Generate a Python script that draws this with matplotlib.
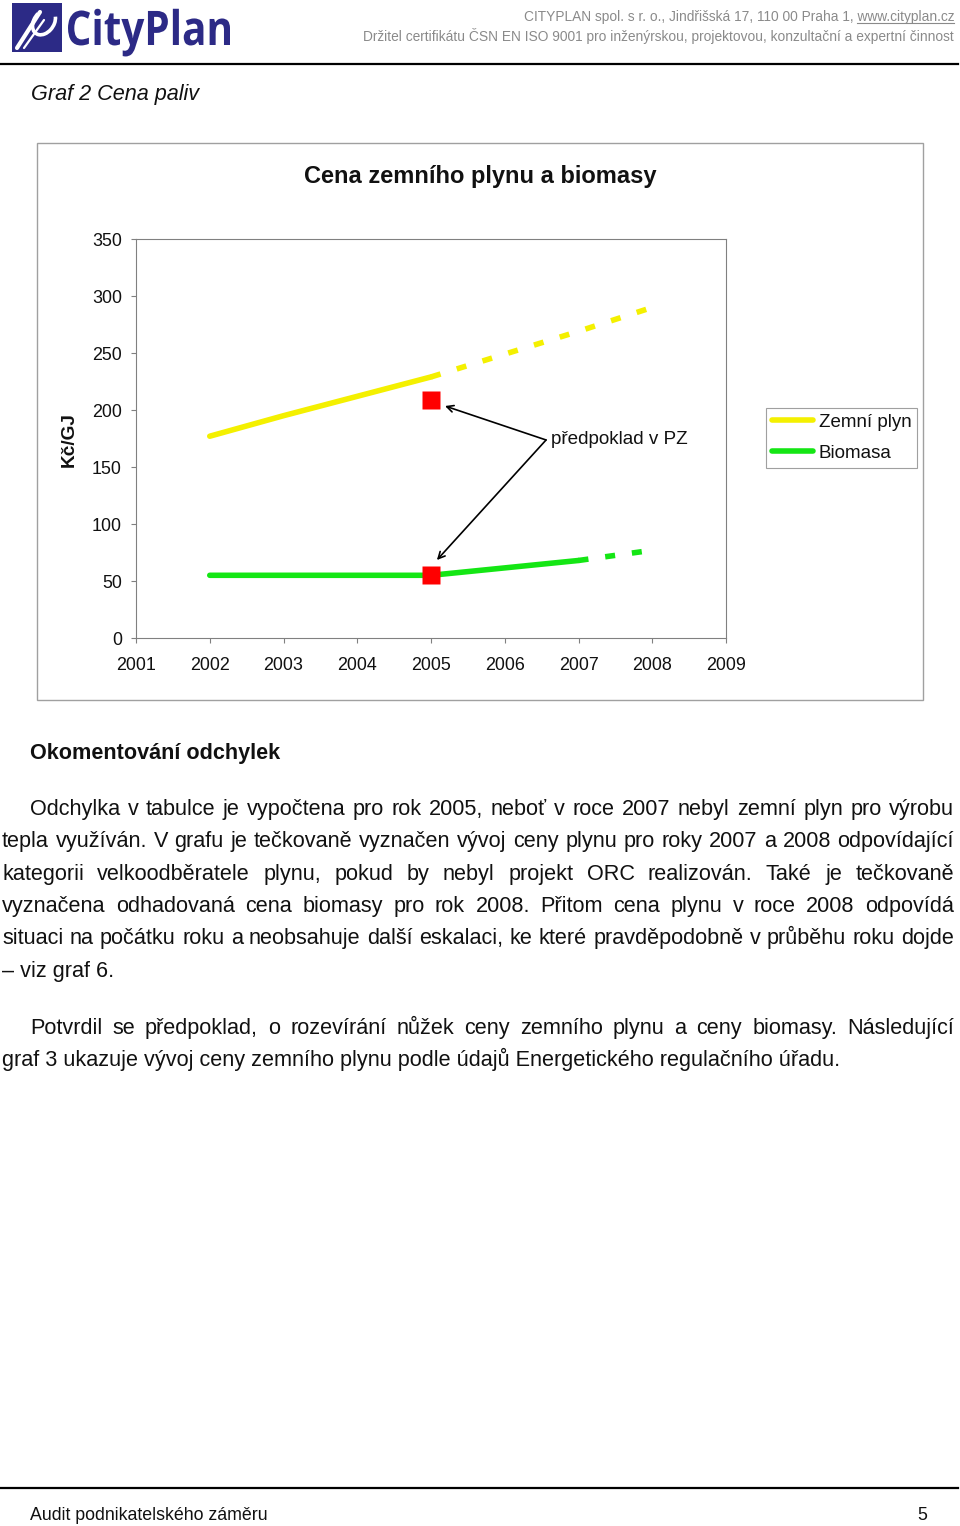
import matplotlib
matplotlib.use('Agg')
import matplotlib.pyplot as plt
from matplotlib import font_manager
from matplotlib.textpath import TextPath
from matplotlib.patches import PathPatch, Rectangle, Arc
from matplotlib.transforms import Affine2D
from matplotlib.font_manager import FontProperties

# ---------------- data ----------------
x_ticks = [2001, 2002, 2003, 2004, 2005, 2006, 2007, 2008, 2009]
y_ticks = [0, 50, 100, 150, 200, 250, 300, 350]

gas_years = [2002, 2003, 2004, 2005]
gas_values = [177, 195, 212, 229]
gas_fc_years = [2005, 2006, 2007, 2008]
gas_fc_values = [229, 249, 269, 290]

bio_years = [2002, 2003, 2004, 2005, 2006, 2007]
bio_values = [55, 55, 55, 55, 61.5, 68]
bio_fc_years = [2007, 2008]
bio_fc_values = [68, 77]

pz_years = [2005, 2005]
pz_values = [209, 55]

series_names = ["Zemní plyn", "Biomasa"]
chart_title = "Cena zemního plynu a biomasy"
y_label = "Kč/GJ"
note_text = "předpoklad v PZ"

header1 = "CITYPLAN spol. s r. o., Jindřišská 17, 110 00 Praha 1, "
header_url = "www.cityplan.cz"
header2 = "Držitel certifikátu ČSN EN ISO 9001 pro inženýrskou, projektovou, konzultační a expertní činnost"
caption = "Graf 2 Cena paliv"
heading = "Okomentování odchylek"
para1 = [
    "Odchylka v tabulce je vypočtena pro rok 2005, neboť v roce 2007 nebyl zemní plyn pro výrobu",
    "tepla využíván. V grafu je tečkovaně vyznačen vývoj ceny plynu pro roky 2007 a 2008 odpovídající",
    "kategorii velkoodběratele plynu, pokud by nebyl projekt ORC realizován. Také je tečkovaně",
    "vyznačena odhadovaná cena biomasy pro rok 2008. Přitom cena plynu v roce 2008 odpovídá",
    "situaci na počátku roku a neobsahuje další eskalaci, ke které pravděpodobně v průběhu roku dojde",
    "– viz graf 6.",
]
para2 = [
    "Potvrdil se předpoklad, o rozevírání nůžek ceny zemního plynu a ceny biomasy. Následující",
    "graf 3 ukazuje vývoj ceny zemního plynu podle údajů Energetického regulačního úřadu.",
]
footer_left = "Audit podnikatelského záměru"
footer_right = "5"

# ---------------- setup ----------------
W, H = 960, 1526
fig = plt.figure(figsize=(W / 100, H / 100), dpi=100)
fig.patch.set_facecolor('white')
ax0 = fig.add_axes([0, 0, 1, 1])
ax0.set_xlim(0, W)
ax0.set_ylim(H, 0)
ax0.axis('off')
renderer = fig.canvas.get_renderer()

names = {f.name for f in font_manager.fontManager.ttflist}
SANS = 'Liberation Sans'
NARROW = 'Liberation Sans Narrow' if 'Liberation Sans Narrow' in names else 'Liberation Sans'


def text_w(s, **kw):
    t = ax0.text(0, 0, s, **kw)
    w = t.get_window_extent(renderer).width
    t.remove()
    return w


def fit(s, target, base=10.0, **kw):
    return base * target / text_w(s, fontsize=base, **kw)


TXT = '#111111'

# ---------------- header ----------------
ax0.add_patch(Rectangle((12, 3), 50, 49, facecolor='#2c2a86', edgecolor='none'))
# stylised white mark
ax0.add_patch(Arc((44, 22), 20, 28, angle=35, theta1=-60, theta2=200,
                  color='white', lw=2.6))
ax0.plot([17, 40], [48, 12], color='white', lw=3.0, solid_capstyle='round')
ax0.plot([24, 44], [48, 20], color='white', lw=1.6, solid_capstyle='round')

fp_logo = FontProperties(family='Open Sans', weight='bold')
tp = TextPath((0, 0), "CityPlan", size=100, prop=fp_logo)
ext = tp.get_extents()
tpC = TextPath((0, 0), "C", size=100, prop=fp_logo).get_extents()
sx = 162 / ext.width
sy = 35 / tpC.height
tr = Affine2D().translate(-ext.x0, 0).scale(sx, -sy).translate(68, 45) + ax0.transData
ax0.add_patch(PathPatch(tp, facecolor='#2c2a86', edgecolor='none', transform=tr))

gray = '#8a8a8a'
fs_h1 = fit(header1 + header_url, 435, family=NARROW)
fs_h2 = fit(header2, 592, family=NARROW)
fs_h = min(fs_h1, fs_h2)
ax0.text(954, 21, header1 + header_url, ha='right', va='baseline', fontsize=fs_h, family=NARROW, color=gray)
wu = text_w(header_url, fontsize=fs_h, family=NARROW)
ax0.plot([954 - wu, 954], [23, 23], color=gray, lw=0.8)
ax0.text(954, 41, header2, ha='right', va='baseline', fontsize=fs_h, family=NARROW, color=gray)
ax0.plot([0, 958], [64, 64], color='black', lw=1.6)

fs_cap = fit(caption, 169, family=SANS, style='italic')
ax0.text(31, 100, caption, ha='left', va='baseline', fontsize=fs_cap, family=SANS, style='italic', color=TXT)

# ---------------- chart frame ----------------
ax0.add_patch(Rectangle((37, 143), 886, 557, facecolor='white', edgecolor='#a0a0a0', lw=1.0))
fs_title = fit(chart_title, 352, family=SANS, weight='bold')
ax0.text(480, 177, chart_title, ha='center', va='center', fontsize=fs_title, family=SANS,
         weight='bold', color=TXT)
fs_yl = fit(y_label, 55, family=SANS, weight='bold')
ax0.text(69, 440, y_label, ha='center', va='center', rotation=90, fontsize=fs_yl,
         family=SANS, weight='bold', color=TXT)

L, R, T, B = 136, 726, 239, 638
ax = fig.add_axes([L / W, 1 - B / H, (R - L) / W, (B - T) / H])
ax.set_xlim(2001, 2009)
ax.set_ylim(0, 350)
ax.set_xticks(x_ticks)
ax.set_xticklabels([str(v) for v in x_ticks])
ax.set_yticks(y_ticks)
ax.set_yticklabels([str(v) for v in y_ticks])
fs_tick = fit("2001", 40, family=SANS)
for lab in ax.get_xticklabels() + ax.get_yticklabels():
    lab.set_family(SANS)
    lab.set_fontsize(fs_tick)
    lab.set_color(TXT)
for sp in ax.spines.values():
    sp.set_color('#808080')
    sp.set_linewidth(0.8)
ax.tick_params(axis='both', direction='out', length=3.6, width=0.8, color='#808080')
ax.tick_params(axis='y', pad=6.5)
ax.tick_params(axis='x', pad=10)

YEL = '#f4f000'
GRN = '#14e614'
lw = 4.0
dash = (0, (1.8, 3.05))
l_gas, = ax.plot(gas_years, gas_values, color=YEL, lw=lw, solid_capstyle='round', label=series_names[0], zorder=3)
ax.plot(gas_fc_years, gas_fc_values, color=YEL, lw=lw, linestyle=dash, dash_capstyle='butt', zorder=3)
l_bio, = ax.plot(bio_years, bio_values, color=GRN, lw=lw, solid_capstyle='round', label=series_names[1], zorder=3)
ax.plot(bio_fc_years, bio_fc_values, color=GRN, lw=lw, linestyle=dash, dash_capstyle='butt', zorder=3)
ax.plot(pz_years, pz_values, linestyle='none', marker='s', markersize=12.5, color='#ff0000',
        markeredgecolor='none', zorder=5)

# annotation
src = (2006.56, 173.7)
ax.annotate('', xy=(2005.19, 203.5), xytext=src,
            arrowprops=dict(arrowstyle='->', color='black', lw=1.2, shrinkA=0, shrinkB=0, mutation_scale=12),
            zorder=6)
ax.annotate('', xy=(2005.08, 68.4), xytext=src,
            arrowprops=dict(arrowstyle='->', color='black', lw=1.2, shrinkA=0, shrinkB=0, mutation_scale=12),
            zorder=6)
ax.text(2006.63, 173.7, note_text, ha='left', va='center', fontsize=fit(note_text, 138, family=SANS),
        family=SANS, color=TXT, zorder=6)

fs_leg = fit(series_names[0], 93, family=SANS)
leg = ax.legend(handles=[l_gas, l_bio], loc='upper left', bbox_to_anchor=(766 / W, 1 - 408 / H),
                bbox_transform=fig.transFigure, frameon=True, fancybox=False, framealpha=1,
                edgecolor='#a0a0a0', prop=FontProperties(family=SANS, size=fs_leg),
                handlelength=2.2, handletextpad=0.3, labelspacing=0.75, borderpad=0.3,
                borderaxespad=0)
leg.get_frame().set_linewidth(0.8)
for t in leg.get_texts():
    t.set_color(TXT)

# ---------------- body text ----------------
fs_head = fit(heading, 250, family=SANS, weight='bold')
ax0.text(30, 759, heading, ha='left', va='baseline', fontsize=fs_head, family=SANS, weight='bold', color=TXT)

fs_body = fit(para2[-1], 841, family=SANS)


def justify(line, x0, x1, yb):
    words = line.split(' ')
    ws = [text_w(w, fontsize=fs_body, family=SANS) for w in words]
    gap = (x1 - x0 - sum(ws)) / (len(words) - 1)
    x = x0
    for w, wd in zip(words, ws):
        ax0.text(x, yb, w, ha='left', va='baseline', fontsize=fs_body, family=SANS, color=TXT)
        x += wd + gap


def paragraph(lines, y0, step=32.3):
    for i, line in enumerate(lines):
        yb = y0 + i * step
        x0 = 30 if i == 0 else 2
        if i == len(lines) - 1:
            ax0.text(x0, yb, line, ha='left', va='baseline', fontsize=fs_body, family=SANS, color=TXT)
        else:
            justify(line, x0, 954, yb)


paragraph(para1, 815)
paragraph(para2, 1034)

# ---------------- footer ----------------
ax0.plot([0, 958], [1488, 1488], color='black', lw=1.6)
fs_f = fit(footer_left, 238, family=NARROW)
ax0.text(30, 1520, footer_left, ha='left', va='baseline', fontsize=fs_f, family=NARROW, color=TXT)
ax0.text(927, 1520, footer_right, ha='right', va='baseline', fontsize=fs_f, family=NARROW, color=TXT)

fig.savefig('out.png', dpi=100, facecolor='white')
